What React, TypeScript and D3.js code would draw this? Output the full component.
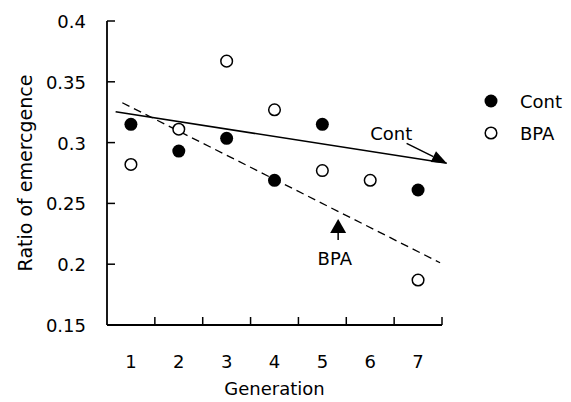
import { useEffect, useRef } from "react";
import * as d3 from "d3";

// data
const generations = [1, 2, 3, 4, 5, 6, 7];
const contValues: (number | null)[] = [0.315, 0.293, 0.3035, 0.269, 0.315, null, 0.261];
const bpaValues = [0.282, 0.311, 0.367, 0.327, 0.277, 0.269, 0.187];
const yTicks = [0.15, 0.2, 0.25, 0.3, 0.35, 0.4];
const yTickLabels = ["0.15", "0.2", "0.25", "0.3", "0.35", "0.4"];

// fitted trend lines, [generation, ratio]
const contTrend: [number, number][] = [[0.68, 0.3254], [7.6, 0.283]];
const bpaTrend: [number, number][] = [[0.82, 0.3328], [7.46, 0.2012]];

const FONT = "'DejaVu Sans', sans-serif";

const App = () => {
  const svgRef = useRef<SVGSVGElement>(null);

  useEffect(() => {
    const svg = d3.select(svgRef.current);
    svg.selectAll("*").remove();

    const x = d3.scaleLinear().domain([0.5, 7.5]).range([107, 442]);
    const y = d3.scaleLinear().domain([0.15, 0.4]).range([325, 21]);

    // axes
    svg.append("line")
      .attr("x1", x(0.5)).attr("x2", x(0.5))
      .attr("y1", y(0.4)).attr("y2", y(0.15))
      .attr("stroke", "#000").attr("stroke-width", 1.8);
    svg.append("line")
      .attr("x1", x(0.5)).attr("x2", x(7.5))
      .attr("y1", y(0.15)).attr("y2", y(0.15))
      .attr("stroke", "#000").attr("stroke-width", 1.8);

    // y ticks (inward)
    svg.append("g").selectAll("line")
      .data(yTicks)
      .enter().append("line")
      .attr("x1", x(0.5)).attr("x2", x(0.5) + 8)
      .attr("y1", (d) => y(d)).attr("y2", (d) => y(d))
      .attr("stroke", "#000").attr("stroke-width", 1.5);
    svg.append("g").selectAll("text")
      .data(yTicks)
      .enter().append("text")
      .attr("x", 86)
      .attr("y", (d) => y(d) + 7)
      .attr("text-anchor", "end")
      .attr("font-family", FONT)
      .attr("font-size", 18)
      .text((d, i) => yTickLabels[i]);

    // x ticks at category boundaries
    svg.append("g").selectAll("line")
      .data(generations)
      .enter().append("line")
      .attr("x1", (d) => x(d + 0.5)).attr("x2", (d) => x(d + 0.5))
      .attr("y1", y(0.15)).attr("y2", y(0.15) - 8)
      .attr("stroke", "#000").attr("stroke-width", 1.5);
    svg.append("g").selectAll("text")
      .data(generations)
      .enter().append("text")
      .attr("x", (d) => x(d))
      .attr("y", 368)
      .attr("text-anchor", "middle")
      .attr("font-family", FONT)
      .attr("font-size", 18)
      .text((d) => d);

    // axis titles
    svg.append("text")
      .attr("x", x(4))
      .attr("y", 395)
      .attr("text-anchor", "middle")
      .attr("font-family", FONT)
      .attr("font-size", 18)
      .text("Generation");
    svg.append("text")
      .attr("transform", `translate(32,${y(0.275)}) rotate(-90)`)
      .attr("text-anchor", "middle")
      .attr("font-family", FONT)
      .attr("font-size", 19)
      .text("Ratio of emercgence");

    // trend lines
    const line = d3.line<[number, number]>()
      .x((d) => x(d[0]))
      .y((d) => y(d[1]));
    svg.append("path")
      .attr("d", line(contTrend))
      .attr("fill", "none").attr("stroke", "#000").attr("stroke-width", 1.6);
    svg.append("path")
      .attr("d", line(bpaTrend))
      .attr("fill", "none").attr("stroke", "#000").attr("stroke-width", 1.3)
      .attr("stroke-dasharray", "8,5");

    // points
    svg.append("g").selectAll("circle")
      .data(generations.filter((g, i) => bpaValues[i] != null))
      .enter().append("circle")
      .attr("cx", (d) => x(d))
      .attr("cy", (d) => y(bpaValues[d - 1]))
      .attr("r", 5.8)
      .attr("fill", "#fff").attr("stroke", "#000").attr("stroke-width", 1.5);
    svg.append("g").selectAll("circle")
      .data(generations.filter((g, i) => contValues[i] != null))
      .enter().append("circle")
      .attr("cx", (d) => x(d))
      .attr("cy", (d) => y(contValues[d - 1] as number))
      .attr("r", 6.5)
      .attr("fill", "#000");

    // Cont annotation: arrow to the end of the solid line
    const cTip = contTrend[1];
    const cTail: [number, number] = [6.76, 0.2994];
    const tx = x(cTip[0]), ty = y(cTip[1]);
    const sx = x(cTail[0]), sy = y(cTail[1]);
    const ang = Math.atan2(ty - sy, tx - sx);
    const L = 15, W = 6;
    const bx = tx - L * Math.cos(ang), by = ty - L * Math.sin(ang);
    svg.append("line")
      .attr("x1", sx).attr("y1", sy).attr("x2", bx).attr("y2", by)
      .attr("stroke", "#000").attr("stroke-width", 1.5);
    svg.append("path")
      .attr("d", `M${tx},${ty}L${bx + W * Math.sin(ang)},${by - W * Math.cos(ang)}L${bx - W * Math.sin(ang)},${by + W * Math.cos(ang)}Z`)
      .attr("fill", "#000");
    svg.append("text")
      .attr("x", x(6.44)).attr("y", y(0.3021))
      .attr("text-anchor", "middle")
      .attr("font-family", FONT).attr("font-size", 18)
      .text("Cont");

    // BPA annotation: upward arrow
    const px = x(5.33);
    const pTip = y(0.2372), pBase = y(0.2257), pEnd = y(0.22);
    svg.append("line")
      .attr("x1", px).attr("x2", px).attr("y1", pBase).attr("y2", pEnd)
      .attr("stroke", "#000").attr("stroke-width", 1.5);
    svg.append("path")
      .attr("d", `M${px},${pTip}L${px - 8},${pBase}L${px + 8},${pBase}Z`)
      .attr("fill", "#000");
    svg.append("text")
      .attr("x", x(5.26)).attr("y", y(0.1993))
      .attr("text-anchor", "middle")
      .attr("font-family", FONT).attr("font-size", 18)
      .text("BPA");

    // legend
    const legend = svg.append("g");
    legend.append("circle").attr("cx", 491).attr("cy", 101).attr("r", 6.5).attr("fill", "#000");
    legend.append("circle").attr("cx", 491).attr("cy", 133).attr("r", 5.8)
      .attr("fill", "#fff").attr("stroke", "#000").attr("stroke-width", 1.5);
    legend.append("text").attr("x", 520).attr("y", 108)
      .attr("font-family", FONT).attr("font-size", 18).text("Cont");
    legend.append("text").attr("x", 520).attr("y", 140)
      .attr("font-family", FONT).attr("font-size", 18).text("BPA");
  }, []);

  return (
    <svg
      ref={svgRef}
      width={571}
      height={402}
      style={{ position: "absolute", left: 0, top: 0, background: "#fff" }}
    ></svg>
  );
};

export default App;
